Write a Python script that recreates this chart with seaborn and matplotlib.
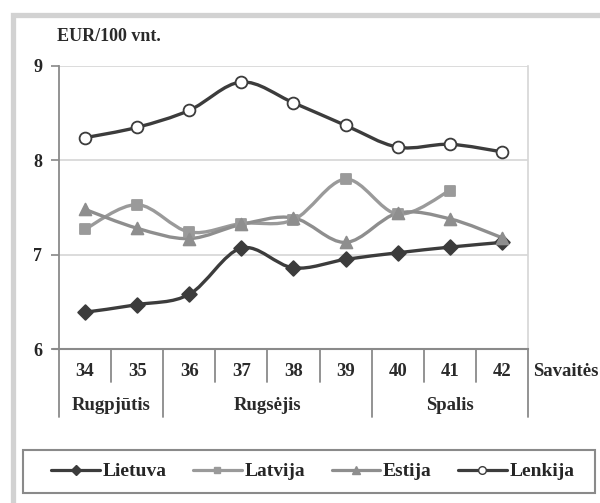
import numpy as np
import pandas as pd
import matplotlib
matplotlib.use("Agg")
import matplotlib.pyplot as plt
import seaborn as sns
from matplotlib.path import Path
from matplotlib.patches import PathPatch, Rectangle
from matplotlib.lines import Line2D
import matplotlib.transforms as mtransforms

# ---- data ----
weeks = ["34", "35", "36", "37", "38", "39", "40", "41", "42"]
months = ["Rugpjūtis", "Rugsėjis", "Spalis"]
month_spans = [(0, 1), (2, 5), (6, 8)]
lietuva = [6.39, 6.47, 6.58, 7.07, 6.86, 6.95, 7.02, 7.08, 7.13]
latvija = [7.27, 7.53, 7.24, 7.33, 7.37, 7.80, 7.43, 7.68, np.nan]
estija = [7.48, 7.28, 7.17, 7.32, 7.39, 7.13, 7.44, 7.38, 7.18]
lenkija = [8.24, 8.35, 8.53, 8.83, 8.61, 8.37, 8.14, 8.17, 8.09]
y_ticks = [6, 7, 8, 9]
y_label = "EUR/100 vnt."
x_label = "Savaitės"

sns.set_theme(style="white")
plt.rcParams["font.family"] = ["Liberation Serif", "DejaVu Serif"]
plt.rcParams["font.weight"] = "bold"

fig = plt.figure(figsize=(6, 5.03), dpi=100)
W, H = 600, 503
ax = fig.add_axes([59 / W, 1 - 349 / H, (528 - 59) / W, (349 - 66) / H])

df = pd.DataFrame({"week": weeks, "Lietuva": lietuva, "Latvija": latvija,
                   "Estija": estija, "Lenkija": lenkija})
df["pos"] = np.arange(len(weeks))
long = df.melt(id_vars=["week", "pos"], var_name="country", value_name="value")

styles = {
    "Lietuva": dict(color="#3c3c3c", marker="D", mfc="#3c3c3c", mec="#3c3c3c", ms=7.5),
    "Latvija": dict(color="#9a9a9a", marker="s", mfc="#9a9a9a", mec="#9a9a9a", ms=7.5),
    "Estija": dict(color="#8e8e8e", marker="^", mfc="#8e8e8e", mec="#8e8e8e", ms=8.5),
    "Lenkija": dict(color="#3c3c3c", marker="o", mfc="white", mec="#3c3c3c", ms=8.5),
}


def smooth_path(xs, ys):
    pts = [(x, y) for x, y in zip(xs, ys) if not np.isnan(y)]
    pts = np.array(pts, dtype=float)
    verts = [tuple(pts[0])]
    codes = [Path.MOVETO]
    n = len(pts)
    for i in range(n - 1):
        p0 = pts[i - 1] if i > 0 else pts[i]
        p1 = pts[i]
        p2 = pts[i + 1]
        p3 = pts[i + 2] if i + 2 < n else pts[i + 1]
        c1 = p1 + (p2 - p0) / 6.0
        c2 = p2 - (p3 - p1) / 6.0
        verts += [tuple(c1), tuple(c2), tuple(p2)]
        codes += [Path.CURVE4] * 3
    return Path(verts, codes)


handles = []
for name in ["Lietuva", "Latvija", "Estija", "Lenkija"]:
    st = styles[name]
    sub = long[long["country"] == name]
    patch = PathPatch(smooth_path(sub["pos"].values, sub["value"].values),
                      facecolor="none", edgecolor=st["color"], lw=2.4,
                      zorder=3, capstyle="round", joinstyle="round")
    ax.add_patch(patch)
    sns.scatterplot(data=sub.dropna(), x="pos", y="value", ax=ax,
                    marker=st["marker"], s=st["ms"] ** 2, color=st["mfc"],
                    edgecolor=st["mec"], linewidth=1.3, zorder=4, legend=False)
    handles.append(Line2D([], [], color=st["color"], lw=2.3, marker=st["marker"],
                          mfc=st["mfc"], mec=st["mec"], ms=st["ms"] * 0.65, mew=1.0,
                          label=name))

ax.set_xlim(-0.5, len(weeks) - 0.5)
ax.set_ylim(6, 9)
ax.set_yticks(y_ticks)
ax.set_yticklabels([str(t) for t in y_ticks], fontsize=13, fontweight="bold")
ax.set_xticks([])
ax.set_xlabel("")
ax.set_ylabel("")
ax.tick_params(axis="y", length=6, width=1.2, color="#888888", pad=6, left=True)
for yv in [7, 8, 9]:
    ax.axhline(yv, color="#d6d6d6", lw=1.2, zorder=1)
ax.spines["top"].set_visible(False)
ax.spines["right"].set_color("#d6d6d6")
ax.spines["right"].set_linewidth(1.2)
ax.spines["left"].set_color("#8a8a8a")
ax.spines["left"].set_linewidth(1.3)
ax.spines["bottom"].set_color("#8a8a8a")
ax.spines["bottom"].set_linewidth(1.5)

# category axis below
trans = mtransforms.blended_transform_factory(ax.transData, ax.transAxes)
ah = 349 - 66
tick_y = -(372 - 349) / ah
month_y = -(405 - 349) / ah
sep_short = -(382 - 349) / ah
sep_long = -(417 - 349) / ah
month_edges = {-0.5, 1.5, 5.5, 8.5}
for b in np.arange(-0.5, len(weeks), 1.0):
    y1 = sep_long if b in month_edges else sep_short
    ax.plot([b, b], [0, y1], transform=trans, color="#8a8a8a", lw=1.3,
            clip_on=False, zorder=2)
for i, w in enumerate(weeks):
    ax.text(i, tick_y, w, transform=trans, ha="center", va="center",
            fontsize=13.5, fontweight="bold", color="#2a2a2a")
for m, (a, b) in zip(months, month_spans):
    ax.text((a + b) / 2, month_y, m, transform=trans, ha="center", va="center",
            fontsize=13.5, fontweight="bold", color="#2a2a2a")
ax.plot([-0.5 - 6 / 52.1, -0.5], [0, 0], transform=trans, color="#8a8a8a",
        lw=1.5, clip_on=False)

fig.text(533 / W, 1 - 372 / H, x_label, ha="left", va="center",
         fontsize=13.5, fontweight="bold", color="#2a2a2a")
fig.text(57 / W, 1 - 37 / H, y_label, ha="left", va="center",
         fontsize=13, fontweight="bold", color="#2a2a2a")

# outer frame
fig.add_artist(Rectangle((12.5 / W, -0.1), 1.2, 1 - 15.5 / H + 0.1,
                         transform=fig.transFigure, fill=False,
                         edgecolor="#d2d2d2", lw=3.8, clip_on=False))
# legend box
fig.add_artist(Rectangle((23 / W, 1 - 493 / H), (595 - 23) / W, (493 - 450) / H,
                         transform=fig.transFigure, fill=False,
                         edgecolor="#8a8a8a", lw=1.5))
fig.legend(handles=handles, loc="center", bbox_to_anchor=(313 / W, 1 - 471.5 / H),
           ncol=4, frameon=False, handlelength=2.5, handletextpad=0.15,
           columnspacing=1.35, prop={"size": 14, "weight": "bold"})

fig.savefig("out.png", dpi=100)
